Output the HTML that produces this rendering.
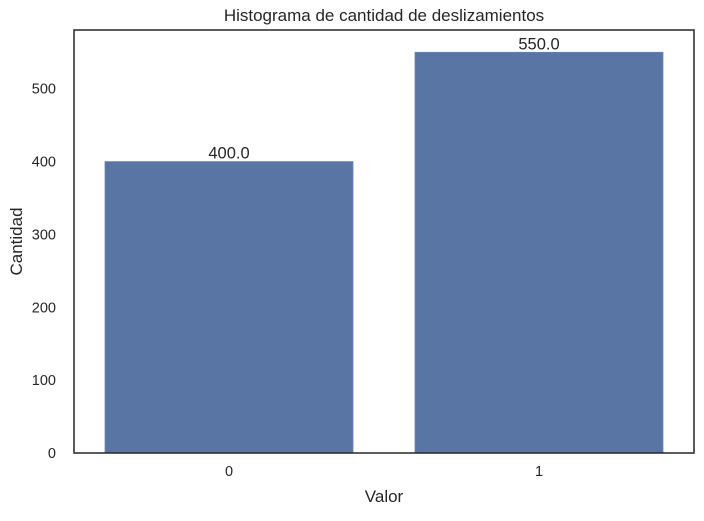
<!DOCTYPE html>
<html><head><meta charset="utf-8"><style>
body{margin:0;background:#fff;font-family:"Liberation Sans",sans-serif;}
svg text{font-family:"Liberation Sans",sans-serif;fill:#262626;}
</style></head><body>
<svg id="chart" width="704" height="516">
<g id="plot"></g>
</svg>
<script>
const categories=["0","1"];
const values=[400,550];
const yTicks=[0,100,200,300,400,500];
const L=74,R=694,T=30,B=453,yMax=580.6;
const svg=document.getElementById('plot');
const NS='http://www.w3.org/2000/svg';
function y(v){return B-(B-T)*v/yMax;}
function x(i){return L+(R-L)*(i+0.5)/categories.length;}
const bw=(R-L)/categories.length*0.8;
function mk(t,a,txt){const e=document.createElementNS(NS,t);for(const k in a)e.setAttribute(k,a[k]);if(txt!==undefined)e.textContent=txt;svg.appendChild(e);return e;}
values.forEach((v,i)=>{
 const r=mk('rect',{x:x(i)-bw/2,y:y(v),width:bw,height:B-y(v),fill:'#5975a4',stroke:'#6b86b3','stroke-width':0.8});
 
 
 const t=mk('text',{x:x(i),y:y(v)-3,'text-anchor':'middle','font-size':16.5},v.toFixed(1));
 
 
 const xl=mk('text',{x:x(i),y:B+23,'text-anchor':'middle','font-size':14.5},categories[i]);
 
 
});
yTicks.forEach(v=>{
 const t=mk('text',{x:L-18,y:y(v)+5,'text-anchor':'end','font-size':14.5},String(v));
 
 
});
const fr=mk('rect',{x:L,y:T,width:R-L,height:B-T,fill:'none',stroke:'#262626','stroke-width':1.5});


const ti=mk('text',{x:(L+R)/2,y:21,'text-anchor':'middle','font-size':17},'Histograma de cantidad de deslizamientos');


const xt=mk('text',{x:(L+R)/2,y:502,'text-anchor':'middle','font-size':17},'Valor');


const yt=mk('text',{x:0,y:0,'text-anchor':'middle','font-size':17,transform:'translate(22,'+((T+B)/2)+') rotate(-90)'},'Cantidad');


</script>
</body></html>
